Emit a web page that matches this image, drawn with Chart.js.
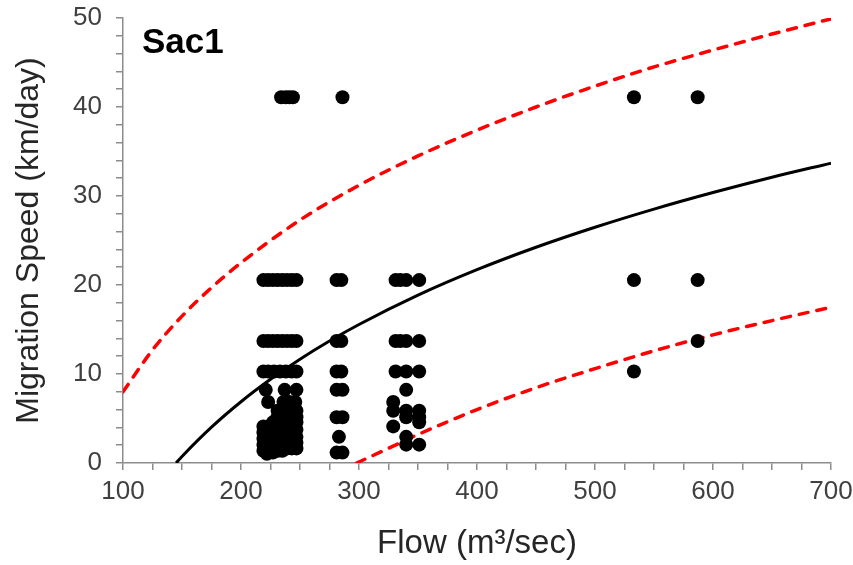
<!DOCTYPE html>
<html>
<head>
<meta charset="utf-8">
<script src="https://cdn.jsdelivr.net/npm/chart.js@4.4.0/dist/chart.umd.min.js"></script>
<style>
  html, body { margin:0; padding:0; background:#fff; }
  #wrap { width:853px; height:565px; }
</style>
</head>
<body>
<div id="wrap"><canvas id="chart" width="853" height="565"></canvas></div>
<script>
// observed migration speeds (km/day), grouped by speed level
const speedLevels = [41.1, 20.55, 13.7, 10.28, 8.22, 6.85, 5.87, 5.14, 4.57, 4.11, 3.74, 3.43, 3.16, 2.94, 2.74, 2.42, 2.28, 2.06, 1.64, 1.37, 1.17, 1.03];
const flowsByLevel = [
  [234, 238, 241, 244, 286, 533, 587],
  [219, 223, 227, 231, 235, 239, 243, 247, 281, 285, 331, 335, 340, 351, 533, 587],
  [219, 223, 227, 231, 235, 239, 243, 247, 281, 285, 331, 335, 340, 351, 587],
  [219, 223, 228, 233, 238, 243, 247, 281, 285, 331, 340, 351, 533],
  [221, 237, 247, 281, 286, 340],
  [223, 236, 241, 246, 329],
  [231, 235, 239, 243, 247, 329, 340, 351],
  [231, 235, 239, 243, 247, 281, 286, 340, 351],
  [227, 239, 243, 247, 351],
  [219, 231, 235, 329],
  [223, 239, 243, 247],
  [219, 231, 235],
  [227],
  [223, 239, 243, 247, 283, 340],
  [219, 231, 235],
  [227],
  [223, 239, 243, 247],
  [219, 231, 235, 340, 351],
  [223, 239, 243, 247],
  [219, 231, 235],
  [227, 281, 286],
  [222]
];

// fitted curve and prediction bounds
const fitFlow = [145, 150, 175, 200, 225, 250, 275, 300, 350, 400, 450, 500, 550, 600, 650, 700];
const fitSpeed = [0, 0.73, 4.02, 6.88, 9.40, 11.66, 13.70, 15.56, 18.86, 21.72, 24.24, 26.49, 28.53, 30.39, 32.11, 33.69];
const upperFlow = [100, 125, 150, 175, 200, 250, 300, 350, 400, 450, 500, 550, 600, 650, 700];
const upperSpeed = [8.0, 12.7, 16.5, 19.7, 22.5, 27.3, 31.2, 34.5, 37.4, 40.0, 42.35, 44.5, 46.4, 48.2, 49.9];
const lowerFlow = [298, 325, 350, 400, 450, 500, 550, 600, 650, 700];
const lowerSpeed = [0, 1.65, 3.2, 6.0, 8.46, 10.6, 12.6, 14.4, 16.0, 17.5];

const FONT = '"Liberation Sans", Arial, sans-serif';
const AXIS = '#8c8c8c';

function toPoints(xs, ys){ return xs.map((x, i) => ({ x, y: ys[i] })); }

const observed = [];
speedLevels.forEach((s, i) => flowsByLevel[i].forEach(f => observed.push({ x: f, y: s })));

const sacLabel = {
  id: 'sacLabel',
  afterDraw(chart){
    const { ctx, chartArea } = chart;
    ctx.save();
    ctx.font = 'bold 35px ' + FONT;
    ctx.fillStyle = '#000';
    ctx.textBaseline = 'alphabetic';
    ctx.fillText('Sac1', chartArea.left + 19, chartArea.top + 35);
    ctx.restore();
  }
};

const curve = (data, color, width, dash) => ({
  data, showLine: true, pointRadius: 0, pointHoverRadius: 0,
  borderColor: color, borderWidth: width, borderDash: dash,
  borderCapStyle: dash.length ? 'round' : 'butt',
  cubicInterpolationMode: 'monotone', fill: false
});

new Chart(document.getElementById('chart').getContext('2d'), {
  type: 'scatter',
  data: {
    datasets: [
      { data: observed, pointRadius: 7, pointHoverRadius: 7, backgroundColor: '#000', borderWidth: 0 },
      curve(toPoints(fitFlow, fitSpeed), '#000', 3, []),
      curve(toPoints(upperFlow, upperSpeed), '#ff0000', 3.5, [9, 9]),
      curve(toPoints(lowerFlow, lowerSpeed), '#ff0000', 3.5, [9, 9])
    ]
  },
  options: {
    responsive: false,
    animation: false,
    events: [],
    layout: { padding: { top: 18, right: 22, left: 10, bottom: 0 } },
    plugins: { legend: { display: false }, tooltip: { enabled: false } },
    scales: {
      x: {
        type: 'linear', min: 100, max: 700,
        afterFit: s => { s.height = 102; s.paddingLeft = 0; s.paddingRight = 0; },
        ticks: {
          stepSize: 25, autoSkip: false, maxRotation: 0, padding: 6,
          color: '#404040', font: { family: FONT, size: 26 },
          callback: v => v % 100 === 0 ? v : ''
        },
        grid: { drawOnChartArea: false, drawTicks: true, tickLength: 7, color: AXIS, lineWidth: 1.5 },
        border: { color: AXIS, width: 1.5 },
        title: { display: true, text: 'Flow (m³/sec)', color: '#262626', font: { family: FONT, size: 33 }, padding: { top: 0, bottom: 1 } }
      },
      y: {
        min: 0, max: 50,
        afterFit: s => { s.width = 113; s.paddingTop = 0; s.paddingBottom = 0; },
        ticks: {
          stepSize: 2, autoSkip: false, padding: 14,
          color: '#404040', font: { family: FONT, size: 26 },
          callback: v => v % 10 === 0 ? v : ''
        },
        grid: { drawOnChartArea: false, drawTicks: true, tickLength: 7, color: AXIS, lineWidth: 1.5 },
        border: { color: AXIS, width: 1.5 },
        title: { display: true, text: 'Migration Speed (km/day)', color: '#262626', font: { family: FONT, size: 32 }, padding: { top: 0, bottom: 4 } }
      }
    }
  },
  plugins: [sacLabel]
});
</script>
</body>
</html>
